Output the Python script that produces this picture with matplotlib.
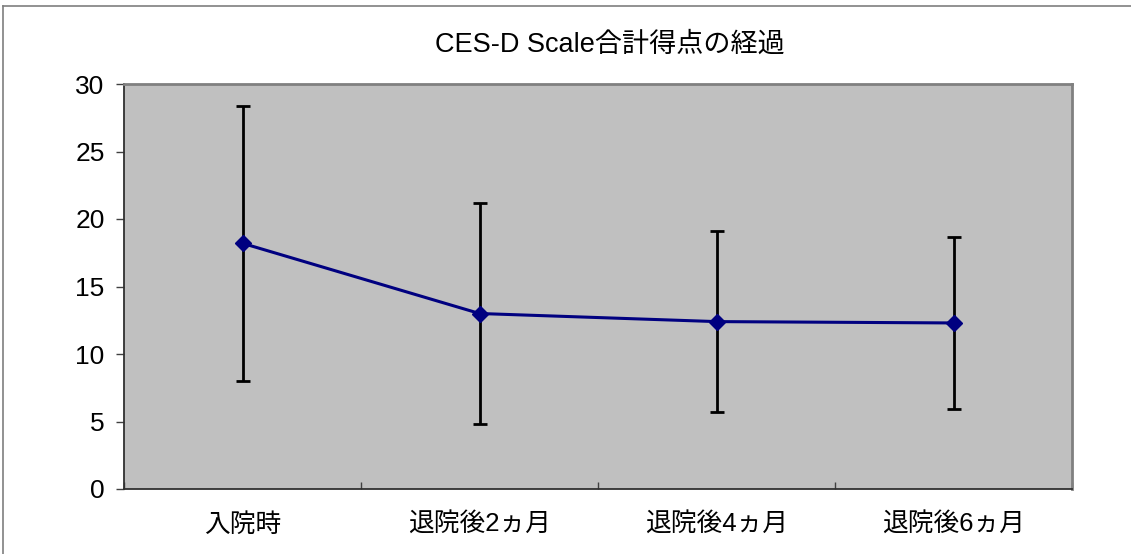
import matplotlib
matplotlib.use("Agg")
import matplotlib.pyplot as plt
from matplotlib.lines import Line2D

# データ
categories = ["入院時", "退院後2ヵ月", "退院後4ヵ月", "退院後6ヵ月"]
means = [18.2, 13.0, 12.4, 12.3]
sds = [10.2, 8.2, 6.7, 6.35]
yticks = [0, 5, 10, 15, 20, 25, 30]

plt.rcParams["font.family"] = ["Liberation Sans", "Noto Sans CJK JP", "DejaVu Sans"]

fig = plt.figure(figsize=(11.31, 5.54), dpi=100)
ax = fig.add_axes([124 / 1131, 65 / 554, 948 / 1131, 405 / 554])
ax.set_facecolor("#c0c0c0")

x = list(range(len(categories)))
ax.errorbar(x, means, yerr=sds, fmt="none", ecolor="black", elinewidth=2,
            capsize=5, capthick=2, zorder=2)
ax.plot(x, means, color="#000080", linewidth=2.2, marker="D", markersize=8,
        zorder=3)

ax.set_xlim(-0.5, len(categories) - 0.5)
ax.set_ylim(0, 30)
ax.set_yticks(yticks)
ax.set_xticks(x)
ax.set_xticklabels(categories, fontsize=18.5)
ax.set_xticks([i - 0.5 for i in range(len(categories) + 1)], minor=True)
ax.tick_params(axis="x", which="major", length=0, pad=17)
ax.tick_params(axis="x", which="minor", direction="in", length=5, width=1, color="#404040")
ax.tick_params(axis="y", which="major", direction="out", length=6, width=1,
               labelsize=19, pad=8, color="#404040")

ax.spines["left"].set_color("#303030")
ax.spines["bottom"].set_color("#303030")
ax.spines["left"].set_linewidth(1.3)
ax.spines["bottom"].set_linewidth(1.3)
ax.spines["top"].set_color("#808080")
ax.spines["right"].set_color("#808080")
ax.spines["top"].set_linewidth(2)
ax.spines["right"].set_linewidth(2)

fig.text(610 / 1131, 1 - 45 / 554, "CES-D Scale合計得点の経過", fontsize=19.5,
         ha="center", va="center")

# 外枠
fig.add_artist(Line2D([3 / 1131, 1], [1 - 6 / 554, 1 - 6 / 554], color="#7f7f7f", linewidth=1.2))
fig.add_artist(Line2D([3 / 1131, 3 / 1131], [0, 1 - 6 / 554], color="#7f7f7f", linewidth=1.2))

fig.savefig("out.png", dpi=100)
